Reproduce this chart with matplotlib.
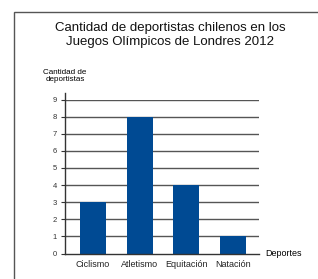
import matplotlib
matplotlib.use("Agg")
import matplotlib.pyplot as plt
from matplotlib.patches import Rectangle

categories = ["Ciclismo", "Atletismo", "Equitación", "Natación"]
values = [3, 8, 4, 1]
yticks = list(range(0, 10))

plt.rcParams['font.family'] = ['Liberation Sans', 'DejaVu Sans']

W, H = 318, 279
fig = plt.figure(figsize=(W/100, H/100), dpi=100)

# border box
fig.patches.append(Rectangle((14.5/W, -0.1), 1.2, (H-12.5)/H + 0.1, transform=fig.transFigure,
                             fill=False, edgecolor='#555555', linewidth=1.0))

ax_left, ax_right = 65/W, 259/W
ax_bottom, ax_top = 1 - 253.5/H, 1 - 99.5/H
ax = fig.add_axes([ax_left, ax_bottom, ax_right - ax_left, ax_top - ax_bottom])

x = list(range(len(categories)))
ax.set_xlim(-0.6, 3.56)
ax.set_ylim(0, 9)
for y in yticks[1:]:
    ax.axhline(y, color='#555555', linewidth=1.0, zorder=1)
ax.bar(x, values, width=0.56, color='#004a93', zorder=2)

ax.set_yticks(yticks)
ax.set_yticklabels([str(v) for v in yticks], fontsize=5.5, color='#333333')
ax.set_xticks(x)
ax.set_xticklabels(categories, fontsize=6.5, color='#222222')
ax.tick_params(axis='x', length=0, pad=5)
ax.tick_params(axis='y', length=3, width=0.8, color='#333333', pad=3)
for s in ['top', 'right']:
    ax.spines[s].set_visible(False)
ax.spines['left'].set_color('#333333')
ax.spines['bottom'].set_color('#333333')
ax.spines['left'].set_linewidth(1.0)
ax.spines['bottom'].set_linewidth(1.0)
ax.spines['left'].set_bounds(0, 9.4)
ax.set_facecolor('none')

fig.text(170/W, 1 - 35/H, "Cantidad de deportistas chilenos en los\nJuegos Olímpicos de Londres 2012",
         ha='center', va='center', fontsize=9.5, linespacing=1.3, color='#111111')
fig.text(65/W, 1 - 76/H, "Cantidad de\ndeportistas", ha='center', va='center', fontsize=5.8,
         linespacing=1.0)
fig.text(265/W, 1 - 254/H, "Deportes", ha='left', va='center', fontsize=6.5)

fig.savefig("out.png", dpi=100)
